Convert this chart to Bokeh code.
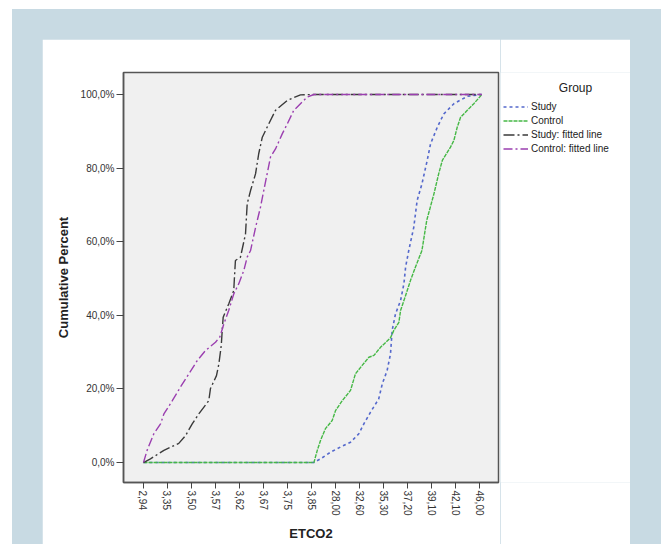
import math
from bokeh.plotting import figure
from bokeh.models import FixedTicker, Legend, LegendItem, Label
from bokeh.layouts import row
from bokeh.embed import file_html
from bokeh.resources import INLINE

# Category axis (ETCO2), shown tick labels
x_labels = ["2,94", "3,35", "3,50", "3,57", "3,62", "3,67", "3,75", "3,85",
            "28,00", "32,60", "35,30", "37,20", "39,10", "42,10", "46,00"]
y_ticks = [0, 20, 40, 60, 80, 100]
y_labels = ["0,0%", "20,0%", "40,0%", "60,0%", "80,0%", "100,0%"]

# Series: position on the category axis and cumulative percent
study_x = [0, 7.1, 7.375, 7.79, 8.2, 8.625, 8.97, 9.18, 9.46, 9.8, 9.95, 10.15, 10.29, 10.36,
           10.5, 10.71, 10.85, 10.92, 11.05, 11.26, 11.4, 11.6, 11.82, 11.96, 12.24, 12.51,
           12.93, 13.49, 14.1]
study_y = [0, 0, 1.0, 2.8, 4.2, 5.5, 7.8, 10.5, 13.7, 17.3, 21.4, 25.0, 29.5, 35.9,
           40.4, 44.0, 48.6, 53.1, 57.6, 63.9, 71.2, 75.7, 82.1, 86.6, 91.1, 94.7,
           97.5, 99.5, 100]

control_x = [0, 7.1, 7.24, 7.375, 7.58, 7.86, 8.0, 8.28, 8.625, 8.83, 9.11, 9.39, 9.6, 9.875,
             10.29, 10.43, 10.64, 10.71, 10.92, 11.125, 11.33, 11.6, 11.8, 12.1, 12.3, 12.45,
             12.79, 12.93, 13.07, 13.21, 13.49, 13.76, 14.1]
control_y = [0, 0, 3.3, 6.0, 9.2, 11.4, 14.1, 16.8, 19.6, 24.1, 26.4, 28.6, 29.1, 31.3,
             33.9, 35.9, 38.1, 41.3, 45.4, 49.5, 53.1, 57.6, 65.8, 73.0, 78.5, 82.1,
             85.7, 87.5, 91.1, 93.8, 95.7, 97.5, 100]

study_fit_x = [0, 0.29, 0.85, 1.47, 1.75, 2.03, 2.3, 2.72, 2.79, 3.04, 3.14, 3.24, 3.28, 3.32,
               3.55, 3.76, 3.79, 3.83, 4.04, 4.25, 4.32, 4.46, 4.67, 4.8, 4.95, 5.15, 5.5,
               5.99, 6.54, 7.08, 14.1]
study_fit_y = [0, 1.0, 3.3, 5.2, 7.3, 10.5, 13.2, 16.8, 20.1, 23.6, 26.8, 31.8, 35.9, 39.5,
               43.1, 46.7, 50.4, 54.9, 55.8, 62.1, 70.3, 73.9, 78.5, 83.9, 88.4, 91.1, 95.7,
               98.4, 99.9, 100, 100]

control_fit_x = [0, 0.15, 0.43, 0.71, 0.85, 1.2, 1.54, 1.89, 2.24, 2.58, 3.0, 3.18, 3.35, 3.55,
                 3.76, 3.97, 4.18, 4.32, 4.46, 4.67, 4.875, 5.01, 5.15, 5.29, 5.5, 5.78, 5.99,
                 6.26, 6.54, 6.82, 7.1, 14.1]
control_fit_y = [0, 3.3, 7.8, 10.5, 13.2, 16.8, 20.5, 24.1, 27.7, 30.4, 32.7, 34.1, 37.7, 41.3,
                 45.8, 48.6, 52.2, 55.8, 57.6, 63.9, 69.4, 73.9, 78.4, 83.0, 85.2, 89.3, 92.0,
                 95.7, 97.5, 99.3, 100, 100]

series_names = ["Study", "Control", "Study: fitted line", "Control: fitted line"]
legend_title = "Group"

FONT = "Liberation Sans"
TXT = "#222222"
STYLES = [dict(line_color="#5468cc", line_width=1.6, line_dash="3 3"),
          dict(line_color="#45b845", line_width=1.4, line_dash="4 1"),
          dict(line_color="#3a3a3a", line_width=1.4, line_dash="11 3 2 3"),
          dict(line_color="#9b3fb0", line_width=1.4, line_dash="9 3 2 3")]

p = figure(width=458, height=505, x_range=(-0.833, 14.79), y_range=(-5.43, 105.98),
           output_backend="svg", toolbar_location=None,
           min_border_left=81, min_border_right=2, min_border_top=33, min_border_bottom=62,
           background_fill_color="#f0f0f0", border_fill_color="white",
           outline_line_color="#555555", outline_line_width=1.5)
p.grid.visible = False

series = [(study_x, study_y), (control_x, control_y),
          (study_fit_x, study_fit_y), (control_fit_x, control_fit_y)]
for (xs, ys), st in zip(series, STYLES):
    p.line(xs, ys, **st)

# axes
xa = p.xaxis[0]
xa.ticker = FixedTicker(ticks=list(range(len(x_labels))))
xa.major_label_overrides = {i: lab for i, lab in enumerate(x_labels)}
xa.major_label_orientation = -math.pi / 2
xa.axis_label = "ETCO2"
xa.major_label_standoff = 2
xa.axis_label_standoff = 7

ya = p.yaxis[0]
ya.ticker = FixedTicker(ticks=y_ticks)
ya.major_label_overrides = {t: lab for t, lab in zip(y_ticks, y_labels)}
ya.axis_label = "Cumulative Percent"
ya.major_label_standoff = 2
ya.axis_label_standoff = 7

for ax in (xa, ya):
    ax.axis_line_color = "#555555"
    ax.axis_line_width = 1.5
    ax.major_tick_line_color = "#444444"
    ax.major_tick_in = 0
    ax.major_tick_out = 6
    ax.minor_tick_line_color = None
    ax.major_label_text_font = FONT
    ax.major_label_text_font_size = "10px"
    ax.major_label_text_color = "#333333"
    ax.axis_label_text_font = FONT
    ax.axis_label_text_font_size = "13px"
    ax.axis_label_text_font_style = "bold"
    ax.axis_label_text_color = TXT
ya.major_tick_out = 7

# legend panel (separate figure; its frame is aligned with the main frame: 130 x 410 px)
lg = figure(width=130, height=505, x_range=(0, 130), y_range=(0, 410),
            output_backend="svg", toolbar_location=None, min_border=0,
            background_fill_color="white", border_fill_color="white",
            outline_line_color=None)
lg.axis.visible = False
lg.grid.visible = False
items = []
nan = float("nan")
for name, st in zip(series_names, STYLES):
    r = lg.line(x=[nan, nan], y=[nan, nan], **st)   # legend proxies, nothing drawn
    items.append(LegendItem(label=name, renderers=[r]))

legend = Legend(items=items, location=(3, 327), margin=0, padding=2, spacing=1,
                glyph_width=25, glyph_height=13, label_height=13, label_standoff=3,
                label_text_font=FONT, label_text_font_size="10px", label_text_color=TXT,
                background_fill_alpha=0, border_line_color=None)
lg.add_layout(legend, "center")
lg.add_layout(Label(x=75, y=395, text=legend_title, text_align="center", text_baseline="middle",
                    text_font=FONT, text_font_size="12px", text_color=TXT))

layout = row(p, lg, styles={"background-color": "#c8dae3",
                            "padding": "30px 31px 0px 30px",
                            "margin": "9px 0px 0px 12px"})

open("out.html", "w").write(file_html(layout, INLINE))
